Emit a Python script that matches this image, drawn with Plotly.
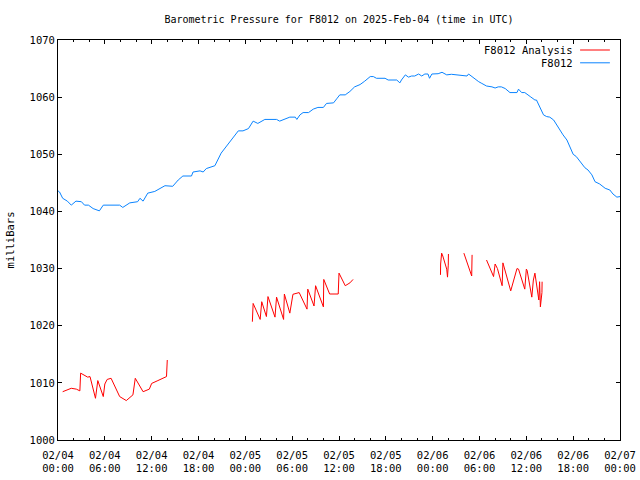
import pandas as pd
import plotly.graph_objects as go

START = "2025-02-04 00:00"

# F8012 observed pressure (hours since start, mbar)
blue_hours = [0.0, 0.2, 0.6, 1.2, 1.7, 2.3, 3.0, 3.4, 3.9, 4.5, 5.3, 5.8, 7.9, 8.3, 9.2, 10.2, 10.5, 10.9,
              11.5, 12.4, 13.7, 14.7, 15.4, 16.0, 17.1, 17.3, 18.2, 18.6, 19.0, 20.1, 20.9, 21.8, 22.6,
              23.1, 23.7, 24.4, 25.0, 25.6, 26.5, 28.0, 28.4, 28.9, 29.7, 30.4, 30.6, 31.0, 31.4, 32.1,
              32.7, 33.3, 34.0, 34.4, 35.3, 35.7, 36.1, 36.8, 37.4, 38.0, 38.7, 39.3, 40.0, 40.4, 40.8,
              41.9, 42.3, 43.4, 43.8, 44.0, 44.5, 44.9, 45.3, 45.7, 46.2, 46.6, 47.0, 47.4, 47.6, 47.9,
              48.7, 49.2, 49.8, 50.4, 52.4, 52.6, 53.0, 53.4, 53.9, 54.3, 54.9, 55.6, 56.0, 56.4, 56.8,
              57.3, 57.9, 58.8, 59.0, 59.4, 59.8, 60.5, 61.1, 61.3, 61.7, 62.2, 62.6, 63.0, 63.5, 63.9,
              64.3, 64.7, 65.2, 65.6, 66.0, 66.4, 66.9, 67.5, 67.9, 68.4, 68.8, 69.4, 70.1, 70.7, 71.1,
              71.6, 72.0]
blue_values = [1043.6, 1043.4, 1042.3, 1041.8, 1041.1, 1041.8, 1041.7, 1041.1, 1041.1, 1040.5, 1040.1,
               1041.1, 1041.1, 1040.7, 1041.5, 1041.7, 1042.3, 1041.8, 1043.2, 1043.5, 1044.5, 1044.4,
               1045.5, 1046.2, 1046.2, 1046.9, 1047.1, 1046.9, 1047.5, 1048.0, 1050.2, 1051.8, 1053.1,
               1054.1, 1054.1, 1054.5, 1055.8, 1055.4, 1056.1, 1056.1, 1055.8, 1056.1, 1056.5, 1056.5,
               1056.1, 1056.9, 1057.3, 1057.3, 1057.9, 1058.2, 1058.2, 1058.9, 1059.0, 1059.7, 1060.4,
               1060.4, 1061.0, 1061.8, 1062.2, 1062.8, 1063.6, 1063.6, 1063.3, 1063.3, 1063.0, 1063.0,
               1062.5, 1063.0, 1063.9, 1063.5, 1063.7, 1063.7, 1064.05, 1063.7, 1064.05, 1064.05, 1063.3,
               1064.05, 1064.1, 1064.35, 1063.9, 1064.0, 1063.7, 1064.05, 1063.6, 1063.1, 1062.7, 1062.4,
               1061.95, 1061.8, 1061.6, 1061.8, 1061.8, 1061.5, 1060.8, 1060.8, 1061.4, 1060.8, 1060.8,
               1060.1, 1059.5, 1059.5, 1058.3, 1056.9, 1056.6, 1056.5, 1056.0, 1055.1, 1054.25, 1053.4,
               1052.5, 1051.3, 1050.0, 1049.6, 1048.7, 1047.65, 1047.25, 1046.4, 1045.2, 1044.8, 1044.05,
               1043.75, 1043.05, 1042.5, 1042.6]

# F8012 Analysis (None = gap between segments)
red_hours = [0.6, 1.7, 2.35, 2.8, 2.9, 3.4, 3.8, 4.1, 4.8, 5.1, 5.8, 6.0, 6.3, 6.8, 7.9, 8.75, 9.6, 9.9,
             10.9, 11.7, 12.0, 12.8, 13.9, 14.0, None,
             24.9, 24.95, 25.0, 25.9, 26.1, 26.7, 26.9, 27.8, 28.0, 28.9, 29.0, 29.7, 30.1, 30.9, 31.9,
             32.0, 32.8, 33.0, 34.0, 34.05, 34.8, 35.9, 36.0, 36.8, 37.4, 37.8, None,
             49.0, 49.02, 49.15, 49.3, 49.8, 49.9, 50.0, 50.02, None,
             52.0, 53.0, 53.05, None,
             54.9, 55.8, 56.0, 56.3, 56.9, 57.0, 58.0, 58.8, 59.0, 59.8, 60.0, 60.1, 60.7, 60.9, 61.1,
             61.5, 61.6, 61.7, 61.8, 62.0, 62.02]
red_values = [1008.45, 1009.05, 1008.9, 1008.6, 1011.7, 1011.25, 1011.0, 1011.1, 1007.3, 1010.4, 1007.6,
              1009.8, 1010.6, 1010.8, 1007.6, 1006.9, 1007.9, 1010.8, 1008.45, 1008.9, 1009.9, 1010.4,
              1011.1, 1014.0, None,
              1020.7, 1022.2, 1023.9, 1021.1, 1024.2, 1021.6, 1025.1, 1021.5, 1025.0, 1021.1, 1025.55,
              1022.2, 1025.5, 1025.8, 1022.9, 1026.4, 1023.45, 1027.0, 1023.3, 1028.1, 1025.55, 1025.55,
              1029.2, 1027.0, 1027.5, 1028.1, None,
              1028.9, 1030.8, 1032.7, 1032.2, 1029.9, 1028.5, 1030.6, 1032.55, None,
              1032.7, 1028.7, 1032.4, None,
              1031.5, 1028.6, 1030.8, 1030.0, 1027.0, 1031.0, 1026.1, 1030.0, 1029.9, 1026.4, 1029.9,
              1029.7, 1025.0, 1028.0, 1029.2, 1026.0, 1024.5, 1027.7, 1023.3, 1025.8, 1027.7]

RED = "#ff0000"
BLUE = "#0a84ff"
FONT = "DejaVu Sans Mono"

t0 = pd.Timestamp(START)


def to_time(hours):
    return [None if h is None else t0 + pd.Timedelta(hours=h) for h in hours]


fig = go.Figure()
fig.add_trace(go.Scatter(x=to_time(red_hours), y=red_values, mode="lines",
                         line=dict(color=RED, width=1), connectgaps=False,
                         name="F8012 Analysis", showlegend=False))
fig.add_trace(go.Scatter(x=to_time(blue_hours), y=blue_values, mode="lines",
                         line=dict(color=BLUE, width=1),
                         name="F8012", showlegend=False))

# legend (gnuplot style: text on the left, sample on the right)
legend_items = [("F8012 Analysis", RED, 0.975), ("F8012", BLUE, 0.943)]
for label, color, yy in legend_items:
    fig.add_annotation(x=0.92, y=yy, xref="paper", yref="paper", text=label,
                       showarrow=False, xanchor="right", yanchor="middle",
                       font=dict(family=FONT, size=10.5, color="black"))
    fig.add_shape(type="line", xref="paper", yref="paper", x0=0.929, x1=0.982,
                  y0=yy, y1=yy, line=dict(color=color, width=1))

fig.update_layout(
    width=640, height=480,
    margin=dict(l=58, r=20, t=40, b=40),
    paper_bgcolor="white", plot_bgcolor="white",
    font=dict(family=FONT, size=10, color="black"),
    title=dict(text="Barometric Pressure for F8012 on 2025-Feb-04 (time in UTC)",
               x=0.5, xanchor="center", xref="paper", y=1 - 19 / 480, yanchor="middle",
               font=dict(family=FONT, size=10, color="black"),
               automargin=False),
    showlegend=False,
)
fig.update_xaxes(
    type="date", automargin=False,
    range=[t0, t0 + pd.Timedelta(hours=72)],
    tick0=t0, dtick=6 * 3600 * 1000,
    tickformat="%m/%d<br>%H:%M",
    ticks="inside", ticklen=4, tickcolor="black",
    ticklabelstandoff=5,
    minor=dict(dtick=2 * 3600 * 1000, tick0=t0, ticks="inside", ticklen=2, tickcolor="black"),
    showline=True, linecolor="black", linewidth=1, mirror="allticks",
    showgrid=False, zeroline=False,
    tickfont=dict(family=FONT, size=10.5),
)
fig.update_yaxes(
    automargin=False,
    range=[1000, 1070], dtick=10,
    ticks="inside", ticklen=4, tickcolor="black",
    showline=True, linecolor="black", linewidth=1, mirror="allticks",
    showgrid=False, zeroline=False,
    tickfont=dict(family=FONT, size=10.5),
    title=dict(text="milliBars", font=dict(family=FONT, size=10.5), standoff=12),
)

fig.write_html("out.html", config={"displayModeBar": False},
               post_script="document.body.style.margin='0';")
